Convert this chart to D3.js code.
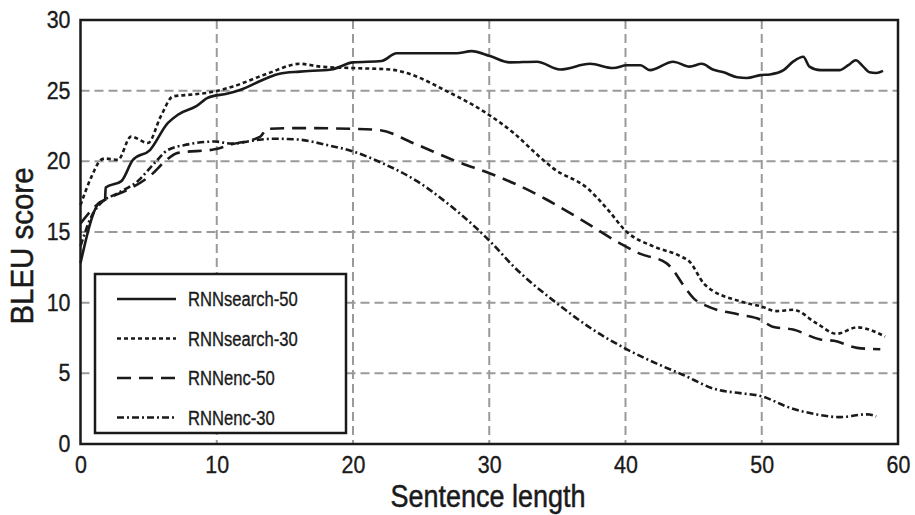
<!DOCTYPE html>
<html>
<head>
<meta charset="utf-8">
<script src="https://cdn.jsdelivr.net/npm/d3@7"></script>
<style>
  body { margin: 0; background: #fff; }
  svg text { font-family: "Liberation Sans", Arial, sans-serif; fill: #1a1a1a; stroke: #1a1a1a; stroke-width: 0.35; }
</style>
</head>
<body>
<svg id="chart"></svg>
<script>
const width = 915;
const height = 515;
const margin = {top: 20, right: 17, bottom: 71, left: 80.5};

// values: [sentence length, BLEU]
const rnnSearch50 = [[0,12.8],[1.3,17.0],[1.8,17.3],[1.85,18.15],[3.0,18.6],[3.85,20.1],[5.1,20.8],[6.4,22.7],[7.15,23.3],[8.5,23.9],[9.35,24.5],[10.8,24.8],[11.7,25.05],[13.7,25.9],[14.6,26.2],[16.1,26.35],[18.4,26.5],[20.0,27.0],[22.1,27.1],[23.2,27.65],[27.6,27.65],[28.7,27.8],[30.05,27.45],[31.5,27.0],[33.5,27.05],[35.2,26.5],[37.4,26.9],[39.1,26.6],[40.1,26.8],[41.1,26.8],[41.8,26.45],[43.5,27.05],[44.7,26.7],[45.6,26.9],[46.4,26.5],[47.2,26.3],[48.2,25.95],[48.9,25.9],[49.9,26.1],[50.6,26.15],[51.6,26.45],[52.3,27.05],[53.05,27.4],[53.5,26.7],[54.3,26.45],[55.7,26.45],[56.35,26.8],[56.9,27.15],[57.45,26.7],[57.9,26.3],[58.4,26.25],[58.9,26.4]];
const rnnSearch30 = [[0,16.9],[0.8,18.9],[1.5,20.1],[1.8,20.2],[2.75,20.1],[3.7,21.75],[4.95,21.3],[5.9,23.2],[6.8,24.6],[7.9,24.7],[9.6,24.9],[11.2,25.3],[13.7,26.2],[16.1,26.9],[17.6,26.7],[20.0,26.6],[22.7,26.5],[24.4,26.1],[26.6,25.1],[29.8,23.4],[31.8,22.0],[33.6,20.4],[34.7,19.5],[37.2,18.1],[38.6,16.7],[40.1,15.0],[42.0,14.0],[44.0,13.3],[44.7,12.9],[45.8,11.3],[48.4,10.1],[49.9,9.75],[51.1,9.4],[52.3,9.5],[54.0,8.55],[55.5,7.8],[57.0,8.25],[59.05,7.6]];
const rnnEnc50 = [[0,15.6],[1.3,17.0],[2.3,17.5],[3.5,18.0],[5.2,19.05],[6.2,20.0],[7.15,20.6],[9.85,20.85],[11.1,21.2],[13.2,21.75],[13.7,22.3],[16.1,22.35],[20.0,22.3],[22.0,22.2],[24.4,21.3],[27.6,20.0],[30.3,19.05],[31.8,18.45],[34.2,17.3],[36.7,15.9],[39.6,14.2],[41.1,13.45],[43.0,12.8],[43.5,12.3],[44.2,11.3],[45.0,10.3],[46.0,9.75],[48.4,9.15],[49.9,8.8],[50.8,8.3],[52.3,8.1],[54.3,7.4],[55.3,7.3],[57.0,6.8],[58.7,6.7]];
const rnnEnc30 = [[0,14.0],[0.8,16.1],[1.5,17.05],[2.75,17.75],[4.2,18.6],[5.45,19.9],[6.4,20.8],[7.9,21.2],[9.85,21.4],[11.1,21.25],[12.9,21.5],[14.15,21.6],[15.9,21.55],[18.1,21.15],[20.0,20.7],[22.2,19.85],[24.7,18.6],[26.9,17.05],[28.8,15.5],[30.05,14.35],[31.8,12.55],[34.9,10.0],[37.6,8.1],[40.1,6.7],[42.5,5.6],[44.2,4.9],[46.7,3.85],[48.4,3.6],[49.9,3.4],[52.1,2.55],[54.0,2.1],[55.7,1.9],[57.7,2.1],[58.4,1.95]];

const seriesNames = ['RNNsearch-50', 'RNNsearch-30', 'RNNenc-50', 'RNNenc-30'];
const seriesValues = [rnnSearch50, rnnSearch30, rnnEnc50, rnnEnc30];
const dashes = [null, '4,3', '14,8', '7,3,2,3'];

const xTicks = [0, 10, 20, 30, 40, 50, 60];
const yTicks = [0, 5, 10, 15, 20, 25, 30];

const svg = d3.select('#chart').attr('width', width).attr('height', height);

const x = d3.scaleLinear().domain([0, 60]).range([margin.left, width - margin.right]);
const y = d3.scaleLinear().domain([0, 30]).range([height - margin.bottom, margin.top]);

// the reference uses a condensed face: squeeze Liberation Sans to fit
function condense(sel, k) {
    sel.each(function () {
        const w = this.getComputedTextLength();
        d3.select(this).attr('textLength', w * k).attr('lengthAdjust', 'spacingAndGlyphs');
    });
}

// grid
svg.append('g')
    .selectAll('line')
    .data(xTicks.slice(1, -1))
    .join('line')
    .attr('x1', d => x(d)).attr('x2', d => x(d))
    .attr('y1', y(30)).attr('y2', y(0))
    .attr('stroke', '#9a9a9a').attr('stroke-width', 2).attr('stroke-dasharray', '9,5');

svg.append('g')
    .selectAll('line')
    .data(yTicks.slice(1, -1))
    .join('line')
    .attr('x1', x(0)).attr('x2', x(60))
    .attr('y1', d => y(d)).attr('y2', d => y(d))
    .attr('stroke', '#9a9a9a').attr('stroke-width', 2).attr('stroke-dasharray', '9,5');

// axes
const xAxis = svg.append('g')
    .attr('transform', `translate(0,${y(0)})`)
    .call(d3.axisBottom(x).tickValues(xTicks).tickSize(0).tickPadding(13));
const yAxis = svg.append('g')
    .attr('transform', `translate(${x(0)},0)`)
    .call(d3.axisLeft(y).tickValues(yTicks).tickSize(0).tickPadding(10));
[xAxis, yAxis].forEach(a => {
    a.select('.domain').remove();
    a.selectAll('text').attr('font-size', 23).style('font-family', null).attr('fill', '#1a1a1a');
    condense(a.selectAll('text'), 0.93);
});
xAxis.selectAll('text').attr('dy', '0.71em');

// lines
const line = d3.line()
    .x(d => x(d[0]))
    .y(d => y(d[1]))
    .curve(d3.curveMonotoneX);

svg.append('g')
    .selectAll('path')
    .data(seriesValues)
    .join('path')
    .attr('d', line)
    .attr('fill', 'none')
    .attr('stroke', '#1a1a1a')
    .attr('stroke-width', 2.6)
    .attr('stroke-dasharray', (d, i) => dashes[i]);

// frame
svg.append('rect')
    .attr('x', x(0)).attr('y', y(30))
    .attr('width', x(60) - x(0)).attr('height', y(0) - y(30))
    .attr('fill', 'none').attr('stroke', '#1a1a1a').attr('stroke-width', 2.5);

// axis titles
svg.append('text')
    .attr('x', 488).attr('y', 507)
    .attr('text-anchor', 'middle').attr('font-size', 31)
    .style('stroke-width', 0.5)
    .text('Sentence length')
    .call(condense, 0.87);
svg.append('text')
    .attr('transform', 'translate(33, 246) rotate(-90)')
    .attr('text-anchor', 'middle').attr('font-size', 32)
    .style('stroke-width', 0.5)
    .text('BLEU score')
    .call(condense, 0.92);

// legend
const legend = svg.append('g').attr('transform', 'translate(95,274)');
legend.append('rect')
    .attr('width', 251).attr('height', 159)
    .attr('fill', '#fff').attr('stroke', '#1a1a1a').attr('stroke-width', 2.5);
const item = legend.selectAll('g.item')
    .data(seriesNames)
    .join('g')
    .attr('class', 'item')
    .attr('transform', (d, i) => `translate(0,${25 + i * 39.5})`);
item.append('line')
    .attr('x1', 22).attr('x2', 81)
    .attr('stroke', '#1a1a1a').attr('stroke-width', 2.6)
    .attr('stroke-dasharray', (d, i) => dashes[i]);
item.append('text')
    .attr('x', 93).attr('y', 7)
    .attr('font-size', 20)
    .text(d => d)
    .call(condense, 0.83);
</script>
</body>
</html>
